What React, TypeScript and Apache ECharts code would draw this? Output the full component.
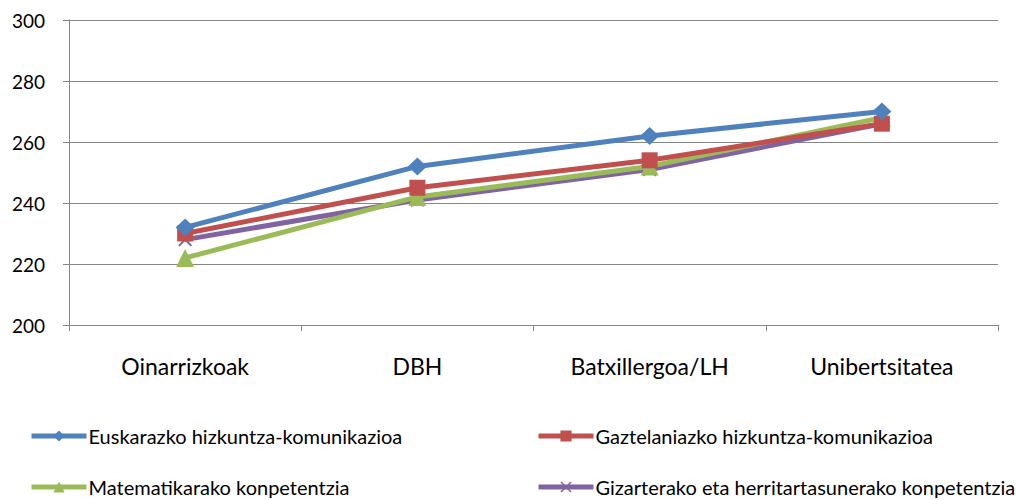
import React, { useEffect, useRef } from "react";
import * as echarts from "echarts";

const categories = ["Oinarrizkoak", "DBH", "Batxillergoa/LH", "Unibertsitatea"];
const seriesNames = [
  "Euskarazko hizkuntza-komunikazioa",
  "Gaztelaniazko hizkuntza-komunikazioa",
  "Matematikarako konpetentzia",
  "Gizarterako eta herritartasunerako konpetentzia",
];
const euskara = [232, 252, 262, 270];
const gaztelania = [230, 245, 254, 266];
const matematika = [222, 242, 252, 268];
const gizartea = [228, 241, 251, 266];
const yTicks = { min: 200, max: 300, interval: 20 };

const colors = ["#4F81BD", "#C0504D", "#9BBB59", "#8064A2"];
const crossPath =
  "path://M0,1L1,0L5,4L9,0L10,1L6,5L10,9L9,10L5,6L1,10L0,9L4,5Z";
const symbols = ["diamond", "rect", "triangle", crossPath];
const symbolSizes: any[] = [[19, 18], 16, 18, 14];

export default function App() {
  const ref = useRef<HTMLDivElement>(null);
  useEffect(() => {
    if (!ref.current) return;
    const chart = echarts.init(ref.current, null, { renderer: "svg" });
    const font = "Lato, 'Open Sans', sans-serif";
    const data = [euskara, gaztelania, matematika, gizartea];
    const legendPos = [
      { left: 29, top: 426 },
      { left: 536, top: 426 },
      { left: 29, top: 477 },
      { left: 536, top: 477 },
    ];
    chart.setOption({
      animation: false,
      textStyle: { fontFamily: font },
      legend: seriesNames.map((n, i) => ({
        data: [n],
        left: legendPos[i].left,
        top: legendPos[i].top,
        padding: 0,
        itemWidth: 55,
        itemHeight: 14,
        itemGap: 4,
        lineStyle: { width: 5 },
        textStyle: { fontSize: 20, color: "#000", fontFamily: font, padding: [0, 0, 0, -3] },
        selectedMode: false,
      })),
      grid: { left: 69, right: 18, top: 20, bottom: 175 },
      xAxis: {
        type: "category",
        data: categories,
        boundaryGap: true,
        axisLine: { lineStyle: { color: "#868686", width: 1 } },
        axisTick: { show: true, length: 6, lineStyle: { color: "#868686" } },
        axisLabel: { fontSize: 23, color: "#000", margin: 29, fontFamily: font },
      },
      yAxis: {
        type: "value",
        min: yTicks.min,
        max: yTicks.max,
        interval: yTicks.interval,
        axisLine: { show: true, lineStyle: { color: "#868686" } },
        axisTick: { show: true, length: 6, lineStyle: { color: "#868686" } },
        splitLine: { lineStyle: { color: "#868686", width: 1 } },
        axisLabel: { fontSize: 19, color: "#000", margin: 24, fontFamily: font },
      },
      series: seriesNames.map((n, i) => ({
        name: n,
        type: "line",
        data: data[i],
        symbol: symbols[i],
        symbolSize: symbolSizes[i],
        showAllSymbol: true,
        lineStyle: { color: colors[i], width: 5 },
        itemStyle: { color: colors[i] },
        z: 10 - i,
      })),
    });
    return () => chart.dispose();
  }, []);
  return (
    <div
      ref={ref}
      style={{ position: "absolute", left: 0, top: 0, width: 1016, height: 500 }}
    />
  );
}
